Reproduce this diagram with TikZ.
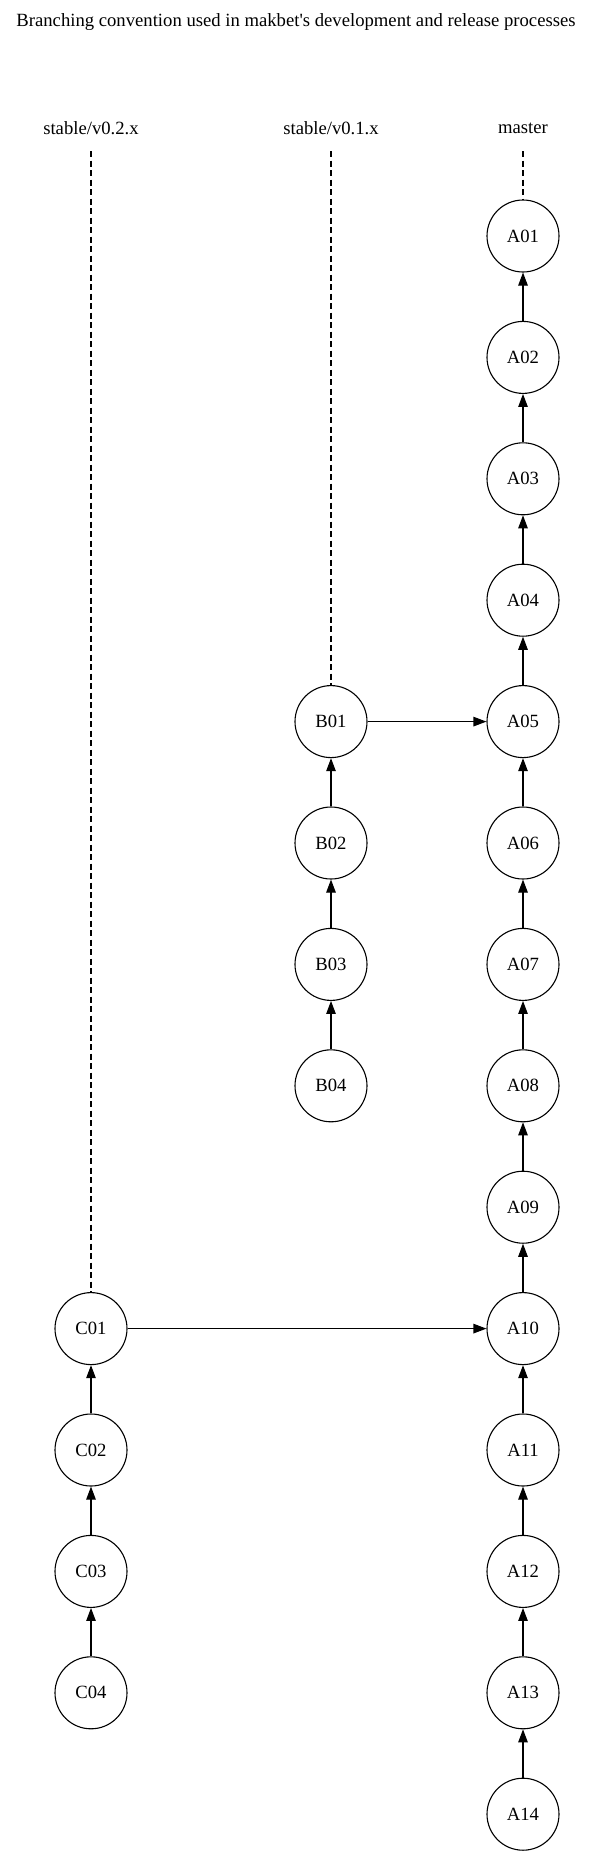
\documentclass[tikz,border=0pt]{standalone}
\usepackage{fontspec}
\setmainfont{Liberation Serif}
\usetikzlibrary{arrows.meta}
\tikzset{>={Triangle[length=13pt,width=9.5pt]}}

\begin{document}
\begin{tikzpicture}[x=1pt,y=-1pt,
		commit/.style={circle, draw=black, line width=1.1pt, minimum size=72pt, inner sep=0pt, font=\fontsize{18.67}{22}\selectfont},
		branch/.style={minimum height=46pt, inner sep=0pt, font=\fontsize{18.67}{22}\selectfont},
		parent/.style={->, line width=1.1pt},
		tip/.style={line width=1.1pt, dash pattern=on 6pt off 3.5pt}]
			\useasboundingbox (0,0) rectangle (593,1860);
			\node[font=\fontsize{18.67}{22}\selectfont] (title) at (296,22) {Branching convention used in makbet\textquotesingle s development and release processes};
			
			\node[branch] (v02) at (91,128) {stable/v0.2.x};
			\node[branch] (v01) at (331,128) {stable/v0.1.x};
			\node[branch] (master) at (523,128) {master};
			
			% master
			\node[commit] (A01) at (523,236) {A01};
			\draw [tip] (master.south) -- (A01.north);
			
			\node[commit] (A02) at (523,357.4) {A02};
			\draw [parent] (A02) -- (A01);
			
			\node[commit] (A03) at (523,478.8) {A03};
			\draw [parent] (A03) -- (A02);
			
			\node[commit] (A04) at (523,600.2) {A04};
			\draw [parent] (A04) -- (A03);
			
			\node[commit] (A05) at (523,721.6) {A05};
			\draw [parent] (A05) -- (A04);
			
			\node[commit] (A06) at (523,843) {A06};
			\draw [parent] (A06) -- (A05);
			
			\node[commit] (A07) at (523,964.4) {A07};
			\draw [parent] (A07) -- (A06);
			
			\node[commit] (A08) at (523,1085.8) {A08};
			\draw [parent] (A08) -- (A07);
			
			\node[commit] (A09) at (523,1207.2) {A09};
			\draw [parent] (A09) -- (A08);
			
			\node[commit] (A10) at (523,1328.6) {A10};
			\draw [parent] (A10) -- (A09);
			
			\node[commit] (A11) at (523,1450) {A11};
			\draw [parent] (A11) -- (A10);
			
			\node[commit] (A12) at (523,1571.4) {A12};
			\draw [parent] (A12) -- (A11);
			
			\node[commit] (A13) at (523,1692.8) {A13};
			\draw [parent] (A13) -- (A12);
			
			\node[commit] (A14) at (523,1814.2) {A14};
			\draw [parent] (A14) -- (A13);
			
			% stable/v0.1.x
			\node[commit] (B01) at (331,721.6) {B01};
			\draw [tip] (v01.south) -- (B01.north);
			\draw [parent] (B01) -- (A05);
			
			\node[commit] (B02) at (331,843) {B02};
			\draw [parent] (B02) -- (B01);
			
			\node[commit] (B03) at (331,964.4) {B03};
			\draw [parent] (B03) -- (B02);
			
			\node[commit] (B04) at (331,1085.8) {B04};
			\draw [parent] (B04) -- (B03);
			
			% stable/v0.2.x
			\node[commit] (C01) at (91,1328.6) {C01};
			\draw [tip] (v02.south) -- (C01.north);
			\draw [parent] (C01) -- (A10);
			
			\node[commit] (C02) at (91,1450) {C02};
			\draw [parent] (C02) -- (C01);
			
			\node[commit] (C03) at (91,1571.4) {C03};
			\draw [parent] (C03) -- (C02);
			
			\node[commit] (C04) at (91,1692.8) {C04};
			\draw [parent] (C04) -- (C03);
		\end{tikzpicture}
\end{document}
